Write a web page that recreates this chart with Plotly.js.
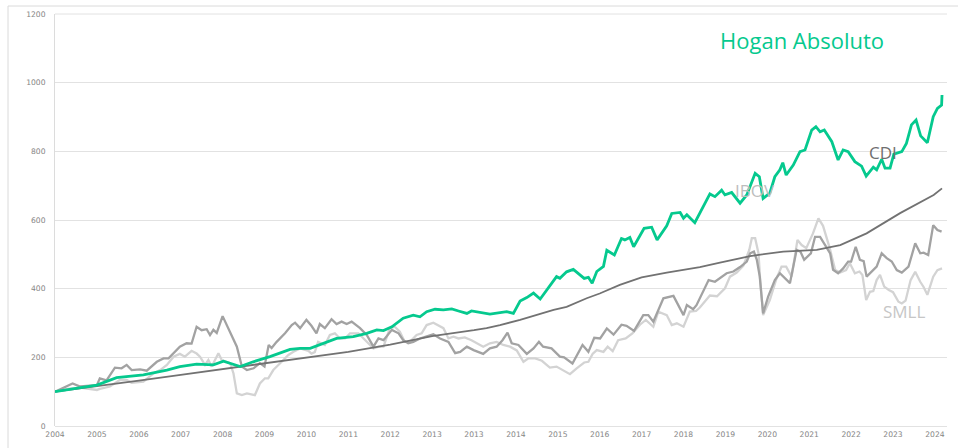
<!DOCTYPE html>
<html>
<head>
<meta charset="utf-8">
<script src="https://cdn.plot.ly/plotly-3.0.1.min.js"></script>
<style>html,body{margin:0;padding:0;background:#fff;}#chart{width:958px;height:448px;}</style>
</head>
<body>
<div id="chart"></div>
<script>
// Tick labels (as printed on the original axis, including the repeated 2013)
const tickLabels = ["2004","2005","2006","2007","2008","2009","2010","2011","2012","2013","2013","2014","2015","2016","2017","2018","2019","2020","2021","2022","2023","2024"];
const yTicks = [0,200,400,600,800,1000,1200];

// Hogan Absoluto (time in axis-tick units from 2004)
const hoganT = [0,1.0,1.47,1.71,2.11,2.67,2.98,3.38,3.78,4.02,4.42,4.73,5.13,5.61,5.85,6.09,6.32,6.72,7.12,7.44,7.68,7.84,8.04,8.31,8.55,8.71,8.87,9.07,9.27,9.47,9.63,9.83,9.94,10.22,10.38,10.78,10.94,11.1,11.26,11.42,11.58,11.97,12.05,12.21,12.37,12.63,12.73,12.82,12.93,13.09,13.17,13.35,13.52,13.6,13.72,13.81,14.06,14.24,14.37,14.6,14.72,14.92,15.0,15.08,15.27,15.63,15.75,15.91,15.99,16.15,16.35,16.51,16.71,16.81,16.9,17.06,17.18,17.3,17.37,17.45,17.62,17.78,17.9,18.06,18.16,18.26,18.36,18.54,18.69,18.81,18.93,19.09,19.25,19.36,19.53,19.61,19.73,19.81,19.93,20.02,20.21,20.32,20.44,20.55,20.66,20.82,20.96,21.06,21.16,21.17];
const hoganV = [100,119,141,144,149,163,173,180,178,189,173,187,202,223,226,226,237,255,260,270,280,278,289,314,323,318,333,340,338,341,335,328,335,328,326,333,328,364,374,387,370,435,430,449,456,430,433,416,450,465,512,498,546,542,549,522,576,579,542,583,619,622,605,615,592,676,668,687,673,680,649,673,736,726,663,678,726,746,767,731,760,799,804,862,872,857,862,828,775,804,799,770,757,728,754,746,777,751,751,792,799,823,877,891,845,825,901,925,935,964];

// CDI (smooth dark grey line)
const cdiT = [0,1,2,3,4,4.42,5,6,6.32,7,8,8.71,9,10,10.3,10.62,11.1,11.9,12.21,12.69,13.0,13.48,13.8,14.0,14.6,15.39,15.87,16.19,16.59,17.38,18.18,18.74,19.37,20.17,20.97,21.17];
const cdiV = [100,115,132,149,166,173,183,199,205,216,237,255,262,279,285,294,309,338,347,372,386,411,425,433,447,463,476,484,495,508,513,527,561,620,673,692];

// IBOV (mid grey)
const ibovT = [0,0.28,0.42,0.6,1.0,1.07,1.23,1.43,1.59,1.71,1.83,2.03,2.19,2.43,2.59,2.71,2.98,3.14,3.26,3.38,3.5,3.62,3.7,3.78,3.86,4.0,4.18,4.34,4.46,4.58,4.74,4.89,5.0,5.1,5.17,5.29,5.49,5.65,5.73,5.85,6.0,6.12,6.24,6.32,6.44,6.6,6.72,6.84,6.96,7.08,7.28,7.44,7.6,7.72,7.84,8.04,8.2,8.31,8.43,8.55,8.71,8.87,9.03,9.19,9.39,9.55,9.67,9.83,9.99,10.22,10.38,10.54,10.68,10.8,10.9,11.06,11.26,11.42,11.55,11.65,11.85,12.05,12.15,12.35,12.59,12.73,12.87,13.01,13.17,13.33,13.52,13.64,13.82,14.04,14.16,14.28,14.52,14.76,14.9,15.0,15.08,15.23,15.31,15.47,15.6,15.75,15.87,16.03,16.19,16.35,16.51,16.59,16.68,16.75,16.82,16.9,17.02,17.18,17.3,17.42,17.54,17.7,17.79,17.88,18.04,18.14,18.26,18.38,18.5,18.57,18.69,18.81,18.93,19.0,19.11,19.21,19.3,19.37,19.53,19.61,19.73,19.85,19.97,20.09,20.21,20.37,20.53,20.65,20.73,20.84,20.96,21.06,21.16];
const ibovV = [100,115,124,115,119,139,133,170,168,178,163,165,161,187,197,197,231,241,240,289,279,282,265,280,271,320,275,231,173,163,168,183,173,236,227,245,270,294,301,285,309,292,270,297,285,311,297,304,297,304,285,265,231,255,250,280,270,250,241,245,255,260,267,255,245,212,216,231,221,210,226,231,250,272,241,236,210,226,245,231,226,202,200,182,236,216,257,255,284,266,295,292,277,323,323,304,372,379,348,323,352,340,352,391,425,420,430,445,450,463,479,503,508,484,435,328,377,425,445,430,416,513,508,484,503,551,551,527,503,455,445,459,479,479,522,484,480,435,454,464,503,489,479,454,447,464,532,503,505,498,585,571,566];

// SMLL (light grey)
const smllT = [0,0.3,0.6,1.0,1.07,1.31,1.55,1.71,1.83,2.11,2.35,2.51,2.67,2.83,2.98,3.1,3.26,3.38,3.46,3.58,3.66,3.74,3.9,3.98,4.18,4.26,4.34,4.46,4.58,4.77,4.89,5.01,5.09,5.21,5.41,5.57,5.69,5.85,6.05,6.12,6.2,6.28,6.44,6.56,6.68,6.8,6.92,7.04,7.24,7.36,7.48,7.6,7.72,7.84,7.99,8.11,8.23,8.35,8.47,8.63,8.75,8.87,9.03,9.15,9.27,9.39,9.51,9.63,9.78,9.94,10.06,10.22,10.38,10.54,10.7,10.86,11.02,11.18,11.3,11.46,11.62,11.81,11.97,12.13,12.29,12.45,12.63,12.73,12.83,12.93,13.09,13.19,13.31,13.44,13.62,13.78,13.96,14.1,14.28,14.4,14.6,14.72,14.84,15.0,15.15,15.3,15.39,15.63,15.8,15.99,16.11,16.27,16.43,16.57,16.63,16.71,16.79,16.83,16.9,17.06,17.22,17.34,17.45,17.58,17.72,17.82,17.93,18.09,18.22,18.33,18.49,18.62,18.74,18.88,18.97,19.09,19.2,19.27,19.36,19.45,19.53,19.61,19.69,19.79,19.9,20.0,20.13,20.21,20.3,20.42,20.53,20.65,20.73,20.82,20.96,21.06,21.17];
const smllV = [100,108,112,105,108,115,134,134,126,129,153,163,178,202,210,202,219,211,202,178,192,173,212,192,183,153,95,90,95,90,124,139,139,163,187,207,216,226,219,211,215,245,236,265,270,255,255,270,270,255,241,226,231,231,284,289,275,245,245,265,270,294,301,294,285,255,260,255,258,250,241,231,241,245,236,231,220,187,197,197,190,170,173,163,151,168,185,187,210,221,216,231,218,250,255,270,295,309,289,333,323,294,299,289,333,335,345,380,378,401,435,447,467,513,547,547,503,425,323,367,430,464,464,435,542,527,518,561,605,583,518,454,447,454,474,445,450,440,367,391,393,425,440,406,396,390,362,357,365,425,449,420,405,382,435,454,459];

// ---- layout geometry (pixels) ----
const W = 958, H = 448;
const M = {l: 55, r: 11, t: 14, b: 22};
const pw = W - M.l - M.r, ph = H - M.t - M.b;
const px = x => (x - M.l) / pw;
const py = y => (H - M.b - y) / ph;
const xMax = pw / 41.9;

const traces = [
  {x: smllT, y: smllV, name: 'SMLL', mode: 'lines', line: {color: '#d3d3d3', width: 2.3}},
  {x: ibovT, y: ibovV, name: 'IBOV', mode: 'lines', line: {color: '#a2a2a2', width: 2.3}},
  {x: cdiT, y: cdiV, name: 'CDI', mode: 'lines', line: {color: '#727272', width: 1.8}},
  {x: hoganT, y: hoganV, name: 'Hogan Absoluto', mode: 'lines', line: {color: '#05c98e', width: 2.8}}
];

const layout = {
  width: W, height: H,
  margin: M,
  paper_bgcolor: '#ffffff', plot_bgcolor: '#ffffff',
  showlegend: false,
  xaxis: {
    range: [0, xMax], tickvals: tickLabels.map((_, i) => i), ticktext: tickLabels,
    showgrid: false, zeroline: false, showline: false, ticks: '',
    ticklabelstandoff: 2,
    tickfont: {family: 'DejaVu Sans', size: 7.6, color: '#858585'}, fixedrange: true
  },
  yaxis: {
    range: [0, 1200], tickvals: yTicks, ticks: '',
    showgrid: true, gridcolor: '#e2e2e2', gridwidth: 1,
    zeroline: true, zerolinecolor: '#e2e2e2', zerolinewidth: 1,
    showline: true, linecolor: '#dcdcdc', linewidth: 1,
    ticklabelstandoff: 7,
    tickfont: {family: 'DejaVu Sans', size: 7.6, color: '#858585'}, fixedrange: true
  },
  shapes: [
    {type: 'rect', xref: 'paper', yref: 'paper', x0: px(8), x1: px(965), y0: py(455), y1: py(6),
     line: {color: '#dadada', width: 1}, fillcolor: 'rgba(0,0,0,0)', layer: 'below'},
    {type: 'line', xref: 'paper', yref: 'paper', x0: 0, x1: 1, y0: 1, y1: 1,
     line: {color: '#e2e2e2', width: 1}}
  ],
  annotations: [
    {text: 'Hogan Absoluto', xref: 'paper', yref: 'paper', x: px(802), y: py(40), xanchor: 'center', yanchor: 'middle',
     showarrow: false, font: {family: 'Open Sans', size: 22, color: '#05c98e'}},
    {text: 'CDI', xref: 'paper', yref: 'paper', x: px(883), y: py(153), xanchor: 'center', yanchor: 'middle',
     showarrow: false, font: {family: 'Open Sans', size: 17, color: '#6f6f6f'}},
    {text: 'IBOV', xref: 'paper', yref: 'paper', x: px(755), y: py(190), xanchor: 'center', yanchor: 'middle',
     showarrow: false, font: {family: 'Open Sans', size: 17, color: '#bdbdbd'}},
    {text: 'SMLL', xref: 'paper', yref: 'paper', x: px(904), y: py(311), xanchor: 'center', yanchor: 'middle',
     showarrow: false, font: {family: 'Open Sans', size: 17, color: '#c6c6c6'}}
  ]
};

Plotly.newPlot('chart', traces, layout, {displayModeBar: false, staticPlot: true});
</script>
</body>
</html>
